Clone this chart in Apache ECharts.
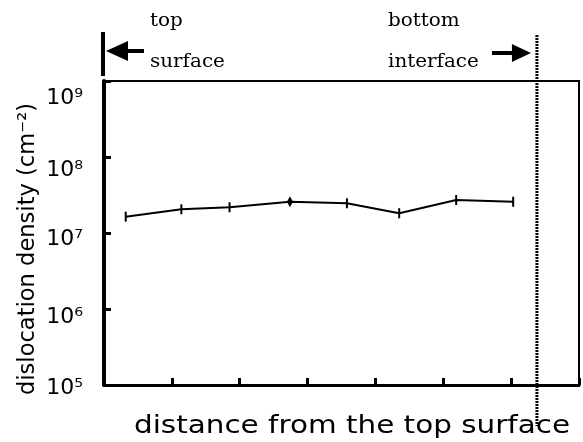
<!DOCTYPE html>
<html>
<head>
<meta charset="utf-8">
<script src="https://cdn.jsdelivr.net/npm/echarts@6/dist/echarts.min.js"></script>
<style>
  html, body { margin: 0; padding: 0; background: #fff; }
  #main { width: 583px; height: 442px; }
</style>
</head>
<body>
<div id="main"></div>
<script>
// distance from top surface (arbitrary units, axis 0..7)
const distance = [0.32, 1.14, 1.85, 2.74, 3.58, 4.35, 5.19, 6.03]
// dislocation density (cm^-2)
const density = [1.64e7, 2.05e7, 2.18e7, 2.58e7, 2.46e7, 1.82e7, 2.72e7, 2.58e7]
const yTicks = [1e5, 1e6, 1e7, 1e8, 1e9]
const supers = { '5': '⁵', '6': '⁶', '7': '⁷', '8': '⁸', '9': '⁹' }
// position of the bottom interface along the distance axis
const interfacePos = 6.38

const sans = 'DejaVu Sans'
const labelFont = { fontFamily: sans, fontSize: 22, color: '#000' }
// the original labels sit a little below their ticks
const rich = {
  e9: Object.assign({ padding: [34, 0, 0, 0] }, labelFont),
  e8: Object.assign({ padding: [26, 0, 0, 0] }, labelFont),
  e7: Object.assign({ padding: [12, 0, 0, 0] }, labelFont),
  e6: Object.assign({ padding: [16, 0, 0, 0] }, labelFont),
  e5: Object.assign({ padding: [6, 0, 0, 0] }, labelFont)
}

// stretch a title so it covers the same length as in the original
function stretch(text, font, length) {
  const ctx = document.createElement('canvas').getContext('2d')
  ctx.font = font
  return length / ctx.measureText(text).width
}

const xTitle = 'distance from the top surface'
const yTitle = 'dislocation density (cm⁻²)'

const chart = echarts.init(document.getElementById('main'))

chart.setOption({
  animation: false,
  grid: {
    left: 104, top: 81, right: 4, bottom: 57,
    show: true, borderColor: '#000', borderWidth: 2
  },
  xAxis: {
    type: 'value', min: 0, max: 7, interval: 1,
    axisLine: { lineStyle: { color: '#000', width: 3 } },
    axisTick: { inside: true, length: 7, lineStyle: { color: '#000', width: 3 } },
    axisLabel: { show: false },
    splitLine: { show: false }
  },
  yAxis: {
    type: 'log', logBase: 10, min: yTicks[0], max: yTicks[yTicks.length - 1],
    axisLine: { show: true, lineStyle: { color: '#000', width: 4 } },
    axisTick: { inside: true, length: 7, lineStyle: { color: '#000', width: 3 } },
    axisLabel: {
      margin: 21,
      fontFamily: sans, fontSize: 22, color: '#000',
      formatter: v => {
        const e = String(Math.round(Math.log10(v)))
        return '{e' + e + '|10' + e.split('').map(c => supers[c]).join('') + '}'
      },
      rich: rich
    },
    splitLine: { show: false }
  },
  series: [{
    type: 'line',
    data: distance.map((d, i) => i === 3
      ? { value: [d, density[i]], symbol: 'diamond', symbolSize: [6, 11] }
      : [d, density[i]]),
    lineStyle: { color: '#000', width: 2 },
    symbol: 'rect',
    symbolSize: [2, 10],
    itemStyle: { color: '#000' }
  }]
})

// titles and annotations
const xLeft = chart.convertToPixel({ gridIndex: 0 }, [0, 1e9])[0]
const xIf = chart.convertToPixel({ gridIndex: 0 }, [interfacePos, 1e9])[0]
const serif = { fontFamily: 'DejaVu Serif', fontSize: 19, fill: '#000', verticalAlign: 'middle' }

chart.setOption({
  graphic: [
    {
      type: 'text', x: 352, y: 427, scaleX: stretch(xTitle, '24px DejaVu Sans', 436),
      style: { text: xTitle, fontFamily: sans, fontSize: 24, fill: '#000', align: 'center', verticalAlign: 'middle' }
    },
    {
      type: 'text', x: 28, y: 249, rotation: Math.PI / 2,
      scaleX: stretch(yTitle, '23px DejaVu Sans', 292),
      style: { text: yTitle, fontFamily: sans, fontSize: 23, fill: '#000', align: 'center', verticalAlign: 'middle' }
    },
    { type: 'line', shape: { x1: xLeft - 1, y1: 32, x2: xLeft - 1, y2: 76 }, style: { stroke: '#000', lineWidth: 4 } },
    { type: 'line', shape: { x1: xLeft + 20, y1: 51, x2: xLeft + 40, y2: 51 }, style: { stroke: '#000', lineWidth: 4 } },
    { type: 'polygon', shape: { points: [[xLeft + 2, 51], [xLeft + 24, 41], [xLeft + 24, 61]] }, style: { fill: '#000' } },
    { type: 'text', x: 150, y: 21, scaleX: 1.05, style: Object.assign({ text: 'top' }, serif) },
    { type: 'text', x: 150, y: 62, scaleX: 1.05, style: Object.assign({ text: 'surface' }, serif) },
    { type: 'text', x: 388, y: 21, scaleX: 1.05, style: Object.assign({ text: 'bottom' }, serif) },
    { type: 'text', x: 388, y: 62, scaleX: 1.05, style: Object.assign({ text: 'interface' }, serif) },
    { type: 'line', shape: { x1: xIf - 45, y1: 53, x2: xIf - 22, y2: 53 }, style: { stroke: '#000', lineWidth: 4 } },
    { type: 'polygon', shape: { points: [[xIf - 6, 53], [xIf - 25, 44], [xIf - 25, 62]] }, style: { fill: '#000' } },
    { type: 'line', shape: { x1: xIf, y1: 35, x2: xIf, y2: 426 }, style: { stroke: '#000', lineWidth: 3, lineDash: [2, 1] } }
  ]
})
</script>
</body>
</html>
